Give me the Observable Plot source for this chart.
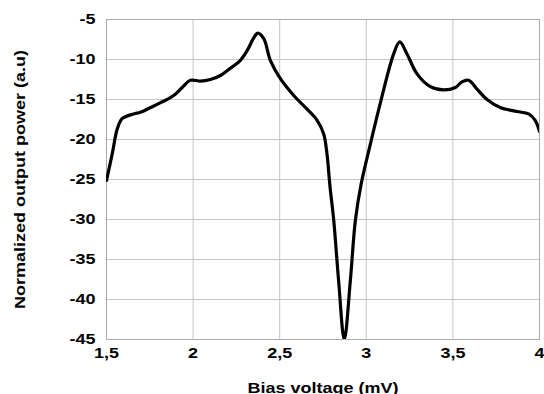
<!DOCTYPE html>
<html>
<head>
<meta charset="utf-8">
<script src="https://cdn.jsdelivr.net/npm/d3@7"></script>
<script src="https://cdn.jsdelivr.net/npm/@observablehq/plot@0.6"></script>
<style>
  html, body { margin: 0; padding: 0; background: #fff; }
</style>
</head>
<body>
<div id="chart"></div>
<script>
const biasVoltage = [1.5, 1.533, 1.562, 1.59, 1.657, 1.696, 1.754, 1.812, 1.888, 1.937, 1.985, 2.042, 2.1, 2.158, 2.215, 2.273, 2.312, 2.35, 2.373, 2.408, 2.446, 2.504, 2.581, 2.658, 2.716, 2.754, 2.773, 2.79, 2.812, 2.84, 2.873, 2.908, 2.937, 2.97, 3.023, 3.085, 3.158, 3.193, 3.235, 3.293, 3.37, 3.446, 3.514, 3.552, 3.591, 3.639, 3.697, 3.773, 3.87, 3.937, 3.975, 4.0];
const outputPower = [-25.1, -21.8, -18.7, -17.4, -16.8, -16.6, -16.0, -15.4, -14.5, -13.5, -12.6, -12.7, -12.5, -12.0, -11.1, -10.1, -8.9, -7.3, -6.7, -7.4, -10.1, -12.4, -14.5, -16.2, -17.6, -19.3, -21.8, -25.8, -30.1, -37.6, -45.0, -37.6, -30.1, -25.6, -20.6, -15.1, -9.3, -7.8, -9.3, -11.8, -13.4, -13.8, -13.5, -12.8, -12.6, -13.7, -15.0, -16.0, -16.5, -16.8, -17.6, -19.0];
const xTicks = [1.5, 2, 2.5, 3, 3.5, 4];
const yTicks = [-45, -40, -35, -30, -25, -20, -15, -10, -5];

const data = biasVoltage.map((v, i) => ({v, p: outputPower[i]}));
const fmt = d => String(d).replace(".", ",");

const chart = Plot.plot({
  width: 544,
  height: 394,
  marginLeft: 106,
  marginRight: 5,
  marginTop: 19,
  marginBottom: 55,
  style: {fontFamily: "'Liberation Sans', Arial, sans-serif", fontWeight: "bold", fontSize: "15px", color: "#000", background: "#fff", overflow: "visible"},
  x: {domain: [1.5, 4], ticks: xTicks, tickFormat: fmt, tickSize: 0, tickPadding: 8, label: "Bias voltage (mV)", labelAnchor: "center", labelArrow: "none", labelOffset: 53},
  y: {domain: [-45, -5], ticks: yTicks, tickFormat: fmt, tickSize: 0, tickPadding: 11, label: "Normalized output power (a.u)", labelAnchor: "center", labelArrow: "none", labelOffset: 92},
  marks: [
    Plot.gridX(xTicks, {stroke: "#c4c4c4", strokeOpacity: 1}),
    Plot.gridY(yTicks, {stroke: "#c4c4c4", strokeOpacity: 1}),
    Plot.frame({stroke: "#aaa"}),
    Plot.line(data, {x: "v", y: "p", curve: "catmull-rom", stroke: "#000", strokeWidth: 3.2, clip: true})
  ]
});
document.getElementById("chart").appendChild(chart);
// widen glyphs horizontally along the text direction to match the reference's wide bold lettering
chart.querySelectorAll("text").forEach(t => {
  const len = t.getComputedTextLength();
  if (len > 0) {
    t.setAttribute("textLength", (len * 1.2).toFixed(1));
    t.setAttribute("lengthAdjust", "spacingAndGlyphs");
  }
});
</script>
</body>
</html>
